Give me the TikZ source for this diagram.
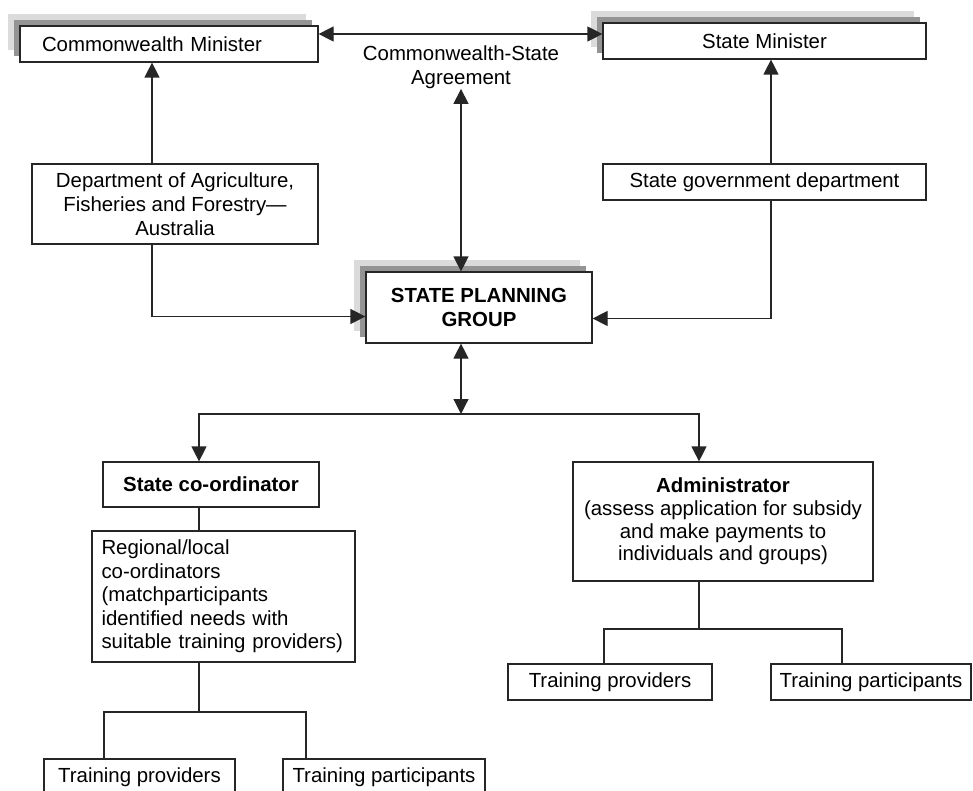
\documentclass[tikz,border=0pt]{standalone}
\usepackage{fontspec}
\setmainfont{Liberation Sans}
\usetikzlibrary{arrows.meta, positioning, calc, shadows}

\begin{document}
\begin{tikzpicture}[
  x=0.5pt, y=-0.5pt,
  font=\fontsize{10.2}{12}\selectfont,
  casella/.style={draw=black!85, fill=white, line width=0.6pt, inner sep=2pt,
    align=center, minimum height=18pt},
  ombra/.style={casella,
    drop shadow={shadow xshift=-6pt, shadow yshift=6pt, fill=black!14, opacity=1},
    drop shadow={shadow xshift=-3pt, shadow yshift=3pt, fill=black!42, opacity=1}},
  linea/.style={draw=black!85, line width=0.6pt},
  freccia/.style={linea, -{Triangle[length=7.5pt,width=7.5pt]}},
  doppia/.style={linea, {Triangle[length=7.5pt,width=7.5pt]}-{Triangle[length=7.5pt,width=7.5pt]}}
]
\useasboundingbox (0,0) rectangle (973,791);

%==============================================================
% livello ministri
%==============================================================
\node[ombra, align=left, text width=127pt, inner xsep=11pt] (cm) at (169,44)
  {Commonwealth Minister};
\node[ombra, minimum width=161.5pt] (sm) at (764.5,41) {State Minister};
\node[inner sep=0pt, align=center] (agr) at (461,67)
  {Commonwealth-State\\ Agreement};

%==============================================================
% dipartimenti
%==============================================================
\node[casella, minimum width=143pt, minimum height=40pt] (daff) at (175,204)
  {Department of Agriculture,\\ Fisheries and Forestry---\\ Australia};
\node[casella, minimum width=161.5pt] (sgd) at (764.5,182)
  {State government department};

\node[ombra, minimum width=113pt, minimum height=35.5pt, font=\fontsize{10.2}{12}\selectfont\bfseries]
  (spg) at (479,307.5) {STATE PLANNING\\ GROUP};

%==============================================================
% coordinatore / amministratore
%==============================================================
\node[casella, minimum width=108pt, minimum height=22.5pt, font=\fontsize{10.2}{12}\selectfont\bfseries]
  (sc) at (211,484.5) {State co-ordinator};
\node[casella, align=left, text width=122pt, inner xsep=4.75pt, minimum height=65.5pt,
  font=\fontsize{10.2}{11.7}\selectfont] (rc) at (223.5,596.5)
  {Regional/local\\ co-ordinators\\ (matchparticipants\\ identified needs with\\ suitable training providers)};
\node[casella, minimum width=150pt, minimum height=59.5pt,
  font=\fontsize{10.2}{11.4}\selectfont] (adm) at (723,521.5)
  {\textbf{Administrator}\\ (assess application for subsidy\\ and make payments to\\ individuals and groups)};

% formazione
\node[casella, minimum width=95.5pt] (tpl) at (139.5,777) {Training providers};
\node[casella, minimum width=101pt] (tal) at (384,777) {Training participants};
\node[casella, minimum width=102pt] (tpr) at (610,682) {Training providers};
\node[casella, minimum width=100pt] (tar) at (871,682) {Training participants};

%==============================================================
% collegamenti
%==============================================================
\draw[doppia] ([yshift=5pt]cm.east) -- ([yshift=5pt]cm.east -| sm.west);
\draw[doppia] (agr.south) -- (agr.south |- spg.north);

\draw[freccia] ([xshift=-11.5pt]daff.north) -- ([xshift=-11.5pt]daff.north |- cm.south);
\draw[freccia] ([xshift=-11.5pt]daff.south) |- ([yshift=-4.5pt]spg.west);
\draw[freccia] ([xshift=3.25pt]sgd.north) -- ([xshift=3.25pt]sgd.north |- sm.south);
\draw[freccia] ([xshift=3.25pt]sgd.south) |- ([yshift=-5.5pt]spg.east);

\coordinate (split) at (461,414);
\draw[doppia] (spg.south -| split) -- (split);
\draw[freccia] (split) -| ([xshift=-6pt]sc.north);
\draw[freccia] (split) -| ([xshift=-12pt]adm.north);

\draw[linea] ([xshift=-6pt]sc.south) -- ([xshift=-6pt]sc.south |- rc.north);

% rami inferiori
\coordinate (lsplit) at (199,712);
\coordinate (lramoA) at (104,712);
\coordinate (lramoB) at (306,712);
\draw[linea] (rc.south -| lsplit) -- (lsplit);
\draw[linea] (lramoA |- tpl.north) -- (lramoA) -- (lramoB) -- (lramoB |- tal.north);

\coordinate (rsplit) at (699,629);
\coordinate (rramoA) at (604,629);
\coordinate (rramoB) at (842,629);
\draw[linea] (adm.south -| rsplit) -- (rsplit);
\draw[linea] (rramoA |- tpr.north) -- (rramoA) -- (rramoB) -- (rramoB |- tar.north);

\end{tikzpicture}
\end{document}
